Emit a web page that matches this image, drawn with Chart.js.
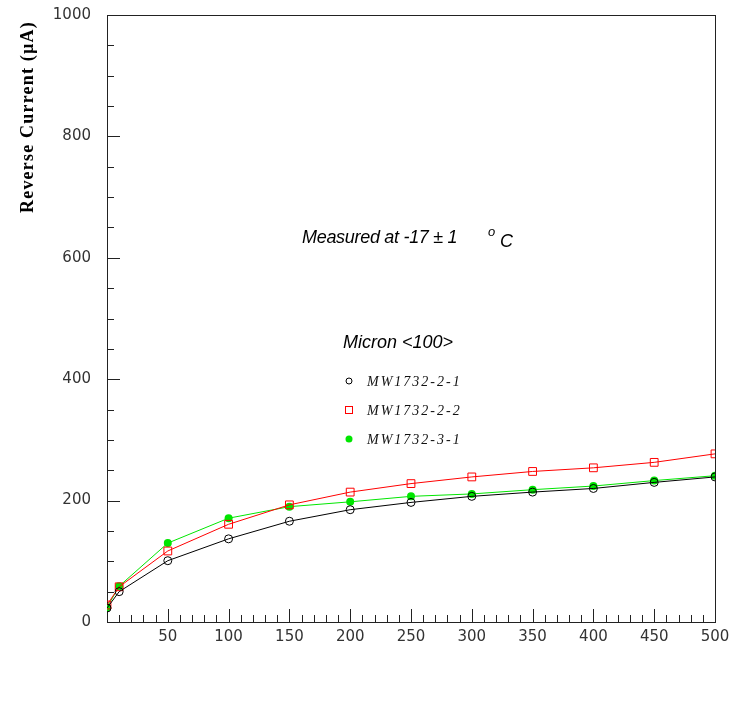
<!DOCTYPE html>
<html>
<head>
<meta charset="utf-8">
<title>Reverse Current vs Bias</title>
<script src="https://cdn.jsdelivr.net/npm/chart.js@4/dist/chart.umd.min.js"></script>
<style>
  html, body { margin: 0; padding: 0; background: #fff; }
  canvas { display: block; }
</style>
</head>
<body>
<canvas id="ivChart" width="739" height="702"></canvas>
<script>
// Bias voltage points (V)
const voltages = [0, 10, 50, 100, 150, 200, 250, 300, 350, 400, 450, 500];

// Reverse current (uA) per detector
const mw1732_2_1 = [23, 50, 101, 137, 166, 185, 197, 207, 214, 220, 230, 239];
const mw1732_2_2 = [28, 58, 117, 161, 193, 214, 228, 239, 248, 254, 263, 277];
const mw1732_3_1 = [24, 59, 130, 171, 190, 198, 207, 211, 218, 224, 233, 241];

const seriesNames = ['MW1732-2-1', 'MW1732-2-2', 'MW1732-3-1'];

const xTickLabels = [50, 100, 150, 200, 250, 300, 350, 400, 450, 500];
const yTickLabels = [0, 200, 400, 600, 800, 1000];

const GREEN = '#00e600';

function toPoints(values) {
    return voltages.map((v, i) => ({ x: v, y: values[i] }));
}

// Frame, inward ticks, axis title and the text annotations
const decorPlugin = {
    id: 'decor',
    beforeDatasetsDraw(chart) {
        const ctx = chart.ctx;
        const a = chart.chartArea;
        const xs = chart.scales.x;
        const ys = chart.scales.y;

        ctx.save();
        ctx.strokeStyle = '#222';
        ctx.lineWidth = 1;

        // box
        ctx.strokeRect(Math.round(a.left) + 0.5, Math.round(a.top) + 0.5,
            Math.round(a.right - a.left), Math.round(a.bottom - a.top));

        // x ticks, minor every 10, major every 50
        ctx.beginPath();
        for (let v = 10; v < 500; v += 10) {
            const px = Math.round(xs.getPixelForValue(v)) + 0.5;
            const len = v % 50 === 0 ? 13 : 7;
            ctx.moveTo(px, a.bottom);
            ctx.lineTo(px, a.bottom - len);
        }
        // y ticks, minor every 50, major every 200
        for (let v = 50; v < 1000; v += 50) {
            const py = Math.round(ys.getPixelForValue(v)) + 0.5;
            const len = v % 200 === 0 ? 13 : 7;
            ctx.moveTo(a.left, py);
            ctx.lineTo(a.left + len, py);
        }
        ctx.stroke();
        ctx.restore();
    },
    afterDraw(chart) {
        const ctx = chart.ctx;
        ctx.save();
        ctx.fillStyle = '#000';

        // y axis title, rotated
        ctx.save();
        ctx.translate(28, 213);
        ctx.rotate(-Math.PI / 2);
        ctx.font = 'bold 18px "Liberation Serif", "Times New Roman", serif';
        ctx.letterSpacing = '1.2px';
        ctx.textBaseline = 'middle';
        ctx.textAlign = 'left';
        ctx.fillText('Reverse Current (\u00b5A)', 0, 0);
        ctx.restore();

        // measurement note
        ctx.textBaseline = 'alphabetic';
        ctx.textAlign = 'left';
        ctx.font = 'italic 18px "Liberation Sans", Arial, sans-serif';
        ctx.letterSpacing = '-0.3px';
        ctx.fillText('Measured at -17 \u00b1 1', 302, 243);
        ctx.font = 'italic 13px "Liberation Sans", Arial, sans-serif';
        ctx.fillText('o', 488, 236);
        ctx.font = 'italic 18px "Liberation Sans", Arial, sans-serif';
        ctx.fillText('C', 500, 247);

        // legend title
        ctx.letterSpacing = '0px';
        ctx.font = 'italic 18px "Liberation Sans", Arial, sans-serif';
        ctx.fillText('Micron <100>', 343, 348);

        // legend entries
        const rows = [381, 410, 439];
        const mx = 349;
        ctx.lineWidth = 1;

        ctx.strokeStyle = '#000';
        ctx.beginPath();
        ctx.arc(mx, rows[0], 3, 0, Math.PI * 2);
        ctx.stroke();

        ctx.strokeStyle = '#ff0000';
        ctx.strokeRect(mx - 3.5, rows[1] - 3.5, 7, 7);

        ctx.fillStyle = GREEN;
        ctx.beginPath();
        ctx.arc(mx, rows[2], 3.5, 0, Math.PI * 2);
        ctx.fill();

        ctx.fillStyle = '#111';
        ctx.font = 'italic 14px "Liberation Serif", "Times New Roman", serif';
        ctx.letterSpacing = '2px';
        seriesNames.forEach((name, i) => {
            ctx.fillText(name, 367, rows[i] + 5);
        });
        ctx.restore();
    }
};

const tickFont = { family: '"DejaVu Sans", Verdana, sans-serif', size: 15 };

const ivChart = new Chart(document.getElementById('ivChart').getContext('2d'), {
    type: 'line',
    data: {
        datasets: [
            {
                label: seriesNames[0],
                data: toPoints(mw1732_2_1),
                borderColor: '#000',
                borderWidth: 1,
                pointStyle: 'circle',
                pointRadius: 4,
                pointBorderWidth: 1,
                pointBorderColor: '#000',
                pointBackgroundColor: 'rgba(0,0,0,0)',
                tension: 0
            },
            {
                label: seriesNames[1],
                data: toPoints(mw1732_2_2),
                borderColor: '#ff0000',
                borderWidth: 1,
                pointStyle: 'rect',
                pointRadius: 5.5,
                pointBorderWidth: 1,
                pointBorderColor: '#ff0000',
                pointBackgroundColor: 'rgba(0,0,0,0)',
                tension: 0
            },
            {
                label: seriesNames[2],
                data: toPoints(mw1732_3_1),
                borderColor: GREEN,
                borderWidth: 1,
                pointStyle: 'circle',
                pointRadius: 4,
                pointBorderWidth: 0,
                pointBackgroundColor: GREEN,
                tension: 0
            }
        ]
    },
    options: {
        responsive: false,
        animation: false,
        layout: {
            padding: { left: 0, right: 24, top: 15, bottom: 0 }
        },
        plugins: {
            legend: { display: false },
            tooltip: { enabled: false }
        },
        scales: {
            x: {
                type: 'linear',
                min: 0,
                max: 500,
                grid: { display: false, drawTicks: false },
                border: { display: true, color: '#222', width: 1 },
                ticks: {
                    stepSize: 50,
                    padding: 6,
                    color: '#333',
                    font: tickFont,
                    maxRotation: 0,
                    callback: v => xTickLabels.includes(v) ? String(v) : ''
                },
                afterFit: scale => {
                    scale.height = 80;
                    scale.paddingLeft = 0;
                    scale.paddingRight = 0;
                }
            },
            y: {
                type: 'linear',
                min: 0,
                max: 1000,
                grid: { display: false, drawTicks: false },
                border: { display: true, color: '#222', width: 1 },
                ticks: {
                    stepSize: 200,
                    padding: 16,
                    color: '#333',
                    font: tickFont,
                    callback: v => yTickLabels.includes(v) ? String(v) : ''
                },
                afterFit: scale => {
                    scale.width = 107;
                    scale.paddingTop = 0;
                    scale.paddingBottom = 0;
                }
            }
        }
    },
    plugins: [decorPlugin]
});
</script>
</body>
</html>
